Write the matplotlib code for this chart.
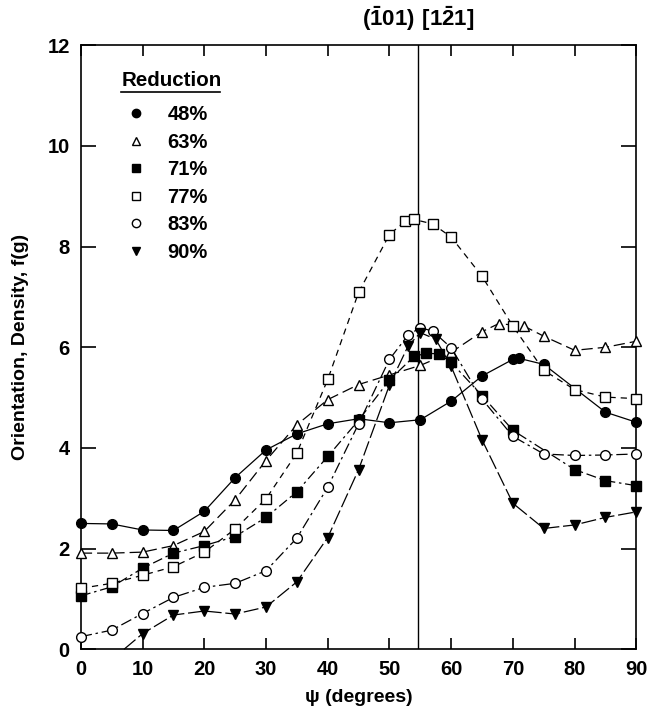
import matplotlib.pyplot as plt
from matplotlib.lines import Line2D

plt.rcParams['font.family'] = ['Liberation Sans', 'DejaVu Sans']
plt.rcParams['font.weight'] = 'bold'
plt.rcParams['mathtext.fontset'] = 'custom'
plt.rcParams['mathtext.rm'] = 'Liberation Sans:bold'
plt.rcParams['mathtext.bf'] = 'Liberation Sans:bold'

# ---- data ----
psi_48 = [0, 5, 10, 15, 20, 25, 30, 35, 40, 45, 50, 55, 60, 65, 70, 71, 75, 85, 90]
f_48 = [2.50, 2.49, 2.37, 2.36, 2.74, 3.41, 3.96, 4.28, 4.48, 4.58, 4.50, 4.56, 4.93, 5.43,
        5.76, 5.78, 5.66, 4.71, 4.51]

psi_63 = [0, 5, 10, 15, 20, 25, 30, 35, 40, 45, 50, 55, 60, 65, 67.7, 71.8, 75, 80, 85, 90]
f_63 = [1.91, 1.91, 1.93, 2.06, 2.34, 2.97, 3.75, 4.46, 4.96, 5.26, 5.45, 5.64, 5.90, 6.31,
        6.47, 6.42, 6.22, 5.94, 6.00, 6.12]

psi_71 = [0, 5, 10, 15, 20, 25, 30, 35, 40, 45, 50, 54, 56, 58, 60, 65, 70, 80, 85, 90]
f_71 = [1.06, 1.24, 1.61, 1.91, 2.06, 2.24, 2.62, 3.13, 3.83, 4.55, 5.35, 5.82, 5.88, 5.87,
        5.70, 5.04, 4.35, 3.57, 3.35, 3.25]

psi_77 = [0, 5, 10, 15, 20, 25, 30, 35, 40, 45, 50, 52.5, 54, 57, 60, 65, 70, 75, 80, 85, 90]
f_77 = [1.21, 1.31, 1.47, 1.64, 1.93, 2.39, 2.99, 3.90, 5.36, 7.09, 8.24, 8.50, 8.54, 8.45,
        8.19, 7.41, 6.42, 5.54, 5.16, 5.01, 4.98]

psi_83 = [0, 5, 10, 15, 20, 25, 30, 35, 40, 45, 50, 53, 55, 57, 60, 65, 70, 75, 80, 85, 90]
f_83 = [0.25, 0.38, 0.71, 1.03, 1.23, 1.31, 1.56, 2.21, 3.22, 4.48, 5.76, 6.24, 6.39, 6.32,
        5.99, 4.97, 4.23, 3.88, 3.85, 3.86, 3.88]

psi_90 = [7, 10, 15, 20, 25, 30, 35, 40, 45, 50, 53, 55, 57.5, 60, 65, 70, 75, 80, 85, 90]
f_90 = [0.0, 0.31, 0.68, 0.76, 0.70, 0.84, 1.34, 2.22, 3.57, 5.25, 6.02, 6.29, 6.16, 5.62,
        4.16, 2.90, 2.40, 2.47, 2.62, 2.73]

labels = ['48%', '63%', '71%', '77%', '83%', '90%']
pole_psi = 54.7

fig = plt.figure(figsize=(6.52, 7.19), dpi=100)
ax = fig.add_axes([0.124, 0.097, 0.852, 0.840])

ms = 7
series = [
    (psi_48, f_48, dict(marker='o', mfc='black', ls='-')),
    (psi_63, f_63, dict(marker='^', mfc='white', ls=(0, (9, 4)))),
    (psi_71, f_71, dict(marker='s', mfc='black', ls=(0, (8, 3, 2, 3)))),
    (psi_77, f_77, dict(marker='s', mfc='white', ls=(0, (5, 4)))),
    (psi_83, f_83, dict(marker='o', mfc='white', ls=(0, (9, 3, 2, 3)))),
    (psi_90, f_90, dict(marker='v', mfc='black', ls=(0, (12, 3)))),
]
for i, (x, y, st) in enumerate(series):
    # the 90% curve runs down to the axis; no symbol on that end point
    mk = list(range(1, len(x))) if i == 5 else None
    ax.plot(x, y, color='black', lw=0.9, mec='black', mew=1.0, ms=ms,
            markevery=mk, clip_on=False, zorder=3, **st)

ax.axvline(pole_psi, color='black', lw=1.0, zorder=2)

ax.set_xlim(0, 90)
ax.set_ylim(0, 12)
ax.set_xticks(range(0, 91, 10))
ax.set_yticks(range(0, 13, 2))
ax.tick_params(direction='in', top=True, right=True, labelsize=14.5, width=1.2, pad=8)
ax.tick_params(axis='x', length=8)
ax.tick_params(axis='y', length=11)
for lab in ax.get_xticklabels() + ax.get_yticklabels():
    lab.set_fontweight('bold')
for s in ax.spines.values():
    s.set_linewidth(1.2)

ax.set_xlabel('\u03c8 (degrees)', fontsize=14, fontweight='bold', labelpad=7)
ax.set_ylabel('Orientation, Density, f(g)', fontsize=14, fontweight='bold', labelpad=13)

# top label of the ideal orientation
ax.text(pole_psi, 12.25, r'$(\bar{1}01)\ [1\bar{2}1]$', ha='center', va='bottom',
        fontsize=16, fontweight='bold')

# legend
handles = [Line2D([], [], ls='none', color='black', mec='black', ms=6,
                  marker=st['marker'], mfc=st['mfc']) for _, _, st in series]
leg = ax.legend(handles, labels, loc='upper left', bbox_to_anchor=(0.071, 0.914),
                frameon=False, fontsize=14.5, handlelength=0.8, handletextpad=1.14,
                labelspacing=0.42, borderaxespad=0)
for t in leg.get_texts():
    t.set_fontweight('bold')
ax.text(0.0726, 0.942, 'Reduction', transform=ax.transAxes, ha='left', va='center',
        fontsize=14.8, fontweight='bold')
ax.plot([0.0726, 0.251], [0.922, 0.922], transform=ax.transAxes, color='black', lw=1.2)

plt.savefig('out.png', dpi=100)
